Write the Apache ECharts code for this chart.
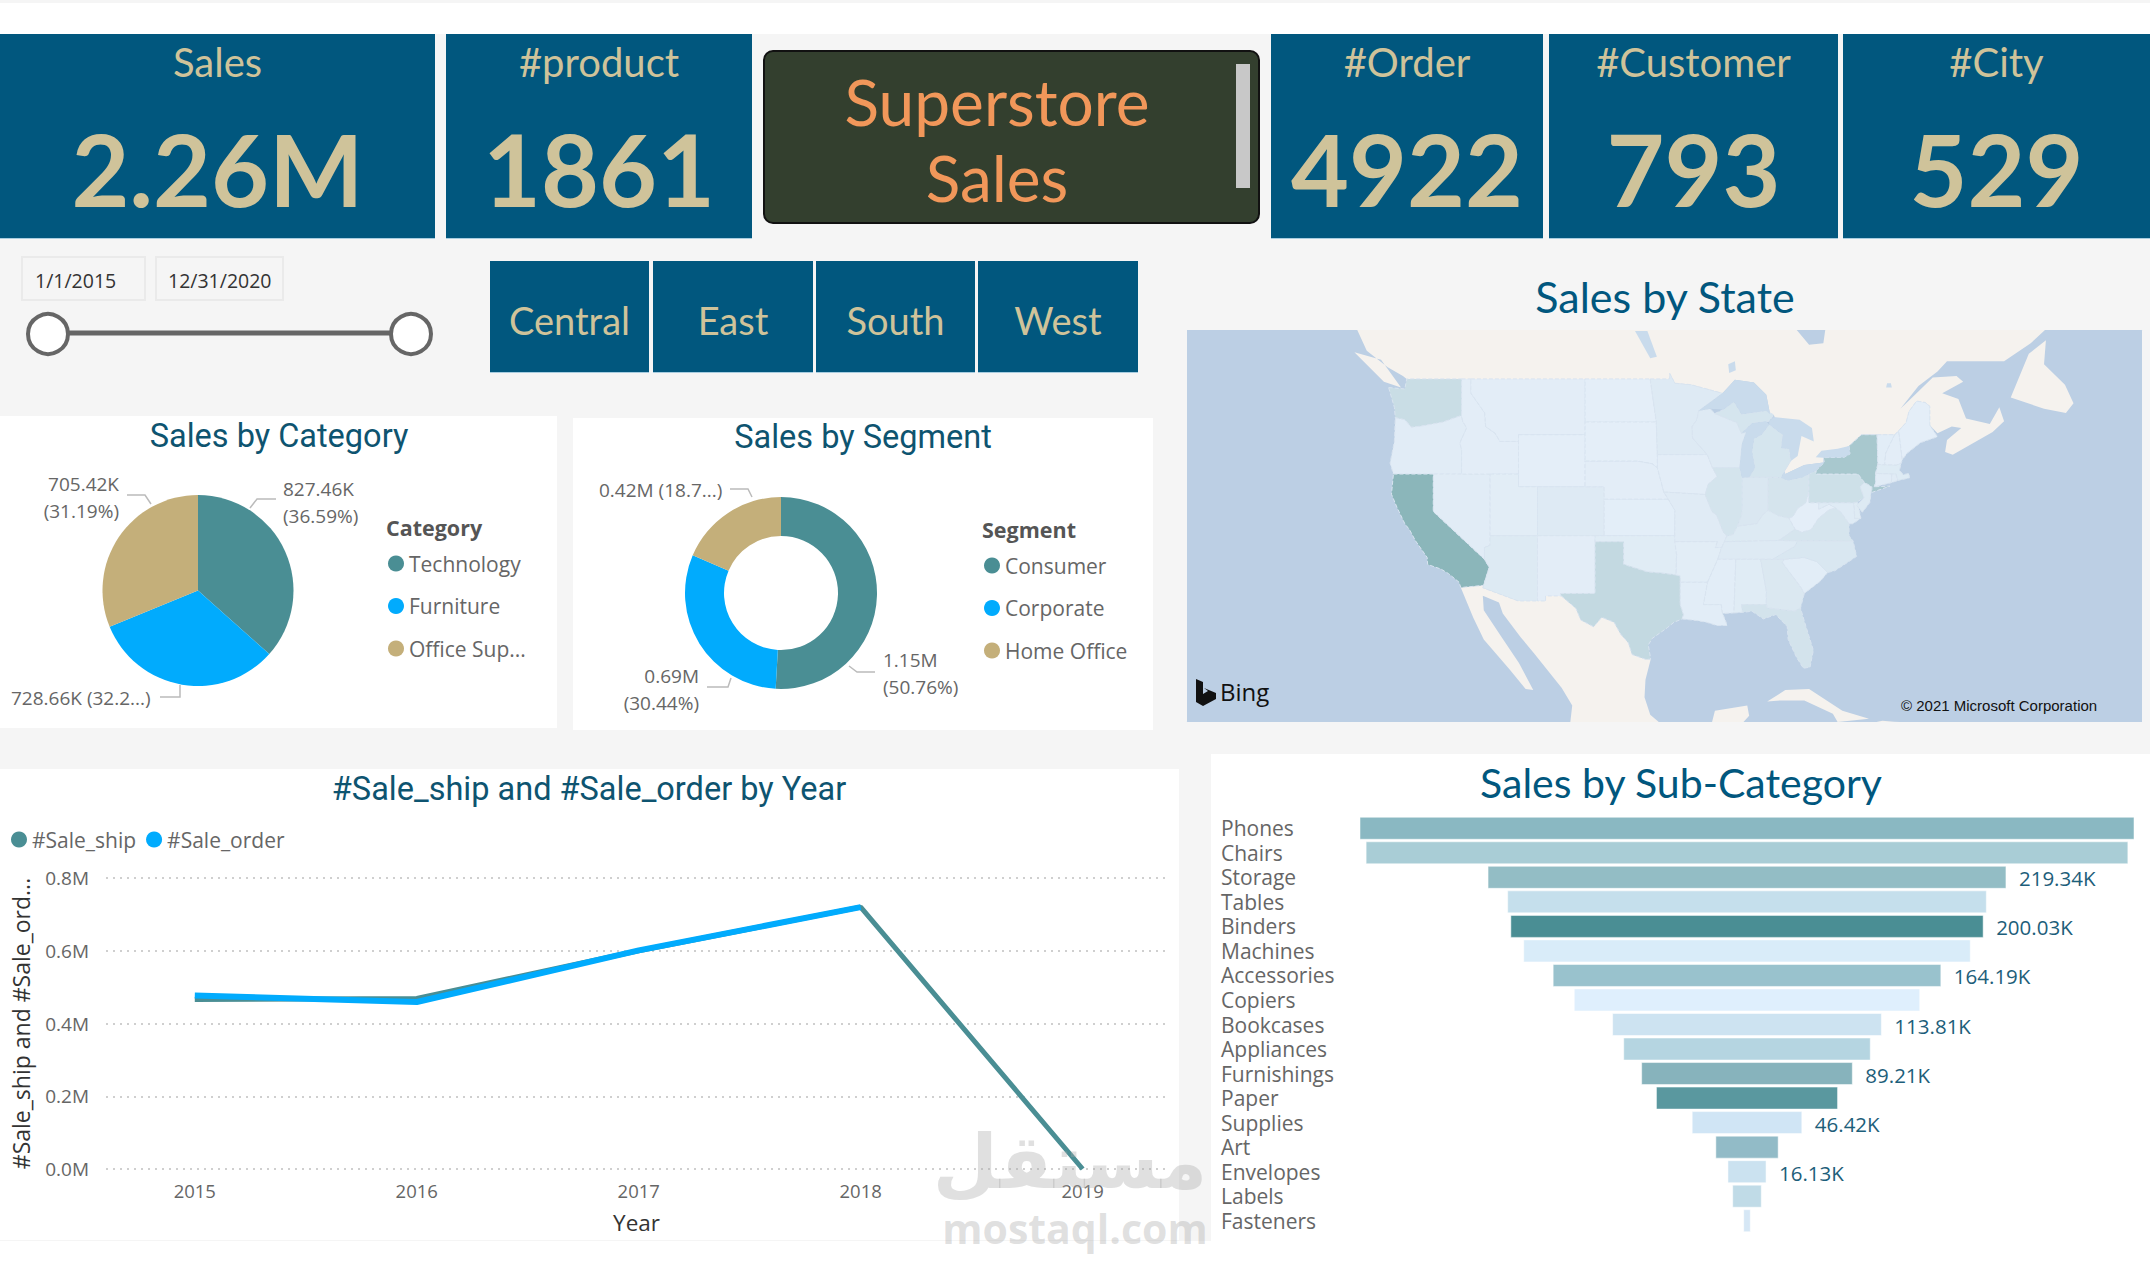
<!DOCTYPE html>
<html><head><meta charset="utf-8"><title>Superstore Sales</title>
<style>html,body{margin:0;padding:0;background:#fff}#c{width:2150px;height:1275px}</style>
<script src="https://cdn.jsdelivr.net/npm/echarts@6/dist/echarts.min.js"></script></head>
<body><div id="c"></div>
<script>
// ---------- data ----------
const kpiLabels = ['Sales', '#product', '#Order', '#Customer', '#City'];
const kpiValues = ['2.26M', '1861', '4922', '793', '529'];
const regionButtons = ['Central', 'East', 'South', 'West'];
const dateRange = ['1/1/2015', '12/31/2020'];
const categories = ['Technology', 'Furniture', 'Office Supplies'];
const categorySales = [827.46, 728.66, 705.42];
const categoryLabels = ['827.46K\n(36.59%)', '728.66K (32.2...)', '705.42K\n(31.19%)'];
const segments = ['Consumer', 'Corporate', 'Home Office'];
const segmentSales = [1.15, 0.69, 0.42];
const segmentLabels = ['1.15M\n(50.76%)', '0.69M\n(30.44%)', '0.42M (18.7...)'];
const years = [2015, 2016, 2017, 2018, 2019];
const saleShip = [0.466, 0.469, 0.60, 0.72, 0.0];
const saleOrder = [0.477, 0.459, 0.601, 0.72, null];
const subCategories = ['Phones','Chairs','Storage','Tables','Binders','Machines','Accessories','Copiers','Bookcases','Appliances','Furnishings','Paper','Supplies','Art','Envelopes','Labels','Fasteners'];
const subSales = [327.8,322.6,219.34,202.7,200.03,189.1,164.19,146.3,113.81,104.4,89.21,76.7,46.42,26.4,16.13,12.1,2.8];
const subLabels = ['','','219.34K','','200.03K','','164.19K','','113.81K','','89.21K','','46.42K','','16.13K','',''];
const subColors = ['#8AB8C2','#A9CDD6','#93BDC5','#C5DFEC','#4A8E94','#D9ECF9','#99C2CD','#DFEFFD','#CDE3F1','#B5D5E1','#87B3BC','#5A989F','#D0E5F5','#92BBC7','#CBE2F0','#C0DBE7','#D6E7F5'];
const stateSales = {California:457.7,'New York':310.9,Texas:170.2,Washington:138.6,Pennsylvania:116.5,Florida:89.5,Illinois:80.2,Ohio:78.3,Michigan:76.3,Virginia:70.6,'North Carolina':55.6,Indiana:53.6,Georgia:49.1,Kentucky:36.6,'New Jersey':35.8,Arizona:35.3,Wisconsin:32.1,Colorado:32.1,Tennessee:30.7,Minnesota:29.9,Massachusetts:28.6,Delaware:27.5,Maryland:23.7,'Rhode Island':22.6,Missouri:22.2,Oklahoma:19.7,Alabama:19.5,Oregon:17.4,Nevada:16.7,Connecticut:13.4,Arkansas:11.7,Utah:11.2,Mississippi:10.8,Louisiana:9.2,Vermont:9,'South Carolina':8.5,Nebraska:7.5,'New Hampshire':7.3,Montana:5.6,'New Mexico':4.8,Iowa:4.6,Idaho:4.4,Kansas:2.9,Wyoming:1.6,'South Dakota':1.3,Maine:1.3,'West Virginia':1.2,'North Dakota':0.9};

// ---------- map outlines (lon, lat) ----------
const stateOutlines = {
Washington:[[[-124.7,48.4],[-123,48.3],[-122.8,49],[-117.03,49],[-117.04,46.42],[-119,45.93],[-121.2,45.65],[-122.3,45.55],[-123,46.1],[-124,46.25],[-124.1,47]]],
Oregon:[[[-124,46.25],[-123,46.1],[-122.3,45.55],[-121.2,45.65],[-119,45.93],[-117.04,46.42],[-116.92,46],[-116.5,45.5],[-117.2,44.4],[-117.03,43.8],[-117.03,42],[-124.2,42],[-124.55,42.85],[-124.1,44.5]]],
California:[[[-124.2,42],[-120,42],[-120,39],[-114.63,35],[-114.13,34.3],[-114.72,32.72],[-117.12,32.53],[-117.3,33],[-118.4,33.75],[-119.2,34.15],[-120.6,34.55],[-120.65,35.15],[-121.9,36.6],[-122.5,37.5],[-123,38],[-123.8,39.3],[-124.4,40.4]]],
Nevada:[[[-120,42],[-114.04,42],[-114.04,36.2],[-114.63,36],[-114.63,35],[-120,39]]],
Idaho:[[[-117.03,49],[-116.05,49],[-116.05,48],[-114.6,46.6],[-114.5,45.6],[-113.5,45.1],[-113,44.5],[-111.05,44.5],[-111.05,42],[-117.03,42],[-117.03,43.8],[-117.2,44.4],[-116.5,45.5],[-116.92,46],[-117.04,46.42]]],
Montana:[[[-116.05,49],[-104.05,49],[-104.05,45],[-111.05,45],[-111.05,44.5],[-113,44.5],[-113.5,45.1],[-114.5,45.6],[-114.6,46.6],[-116.05,48]]],
Wyoming:[[[-111.05,45],[-104.05,45],[-104.05,41],[-111.05,41]]],
Utah:[[[-114.04,42],[-111.05,42],[-111.05,41],[-109.05,41],[-109.05,37],[-114.04,37]]],
Colorado:[[[-109.05,41],[-102.05,41],[-102.05,37],[-109.05,37]]],
Arizona:[[[-114.04,37],[-109.05,37],[-109.05,31.33],[-111.07,31.33],[-114.8,32.5],[-114.72,32.72],[-114.13,34.3],[-114.63,35],[-114.63,36],[-114.04,36.2]]],
'New Mexico':[[[-109.05,37],[-103,37],[-103,32],[-106.62,32],[-106.53,31.78],[-108.2,31.78],[-108.2,31.33],[-109.05,31.33]]],
'North Dakota':[[[-104.05,49],[-97.2,49],[-96.56,45.94],[-104.05,45.94]]],
'South Dakota':[[[-104.05,45.94],[-96.56,45.94],[-96.45,43.5],[-96.45,42.5],[-97,42.8],[-98.5,43],[-104.05,43]]],
Nebraska:[[[-104.05,43],[-98.5,43],[-97,42.8],[-96.45,42.5],[-95.77,40.58],[-95.3,40],[-102.05,40],[-102.05,41],[-104.05,41]]],
Kansas:[[[-102.05,40],[-95.3,40],[-94.6,39.1],[-94.62,37],[-102.05,37]]],
Oklahoma:[[[-103,37],[-94.62,37],[-94.43,35.4],[-94.48,33.64],[-96,33.8],[-97.5,33.9],[-100,34.56],[-100,36.5],[-103,36.5]]],
Texas:[[[-103,36.5],[-100,36.5],[-100,34.56],[-97.5,33.9],[-96,33.8],[-94.48,33.64],[-94.04,33.55],[-94.04,31],[-93.7,30.1],[-93.84,29.7],[-94.7,29.4],[-95.4,28.9],[-97,27.9],[-97.4,27.3],[-97.15,25.95],[-97.7,25.95],[-99.1,26.4],[-99.5,27.5],[-100.3,28.3],[-101,29.4],[-102.3,29.85],[-103.15,28.98],[-104.5,29.6],[-105,30.65],[-106.53,31.78],[-106.62,32],[-103,32]]],
Minnesota:[[[-97.2,49],[-95.15,49],[-95.15,49.38],[-94.6,48.7],[-92.9,48.6],[-89.6,48],[-92.1,46.75],[-92.3,46.1],[-92.8,45.6],[-92.75,44.75],[-91.2,43.5],[-96.45,43.5],[-96.56,45.94]]],
Iowa:[[[-96.45,43.5],[-91.2,43.5],[-90.65,42.5],[-90.15,41.8],[-91.1,41.2],[-91.42,40.38],[-95.77,40.58],[-96.45,42.5]]],
Missouri:[[[-95.77,40.58],[-91.42,40.38],[-90.7,39],[-90.2,38.7],[-89.5,37.3],[-89.15,36.98],[-89.4,36.5],[-89.7,36],[-90.37,36],[-90.15,36.5],[-94.62,36.5],[-94.62,37],[-94.6,39.1],[-95.3,40]]],
Arkansas:[[[-94.62,36.5],[-90.15,36.5],[-90.37,36],[-89.7,36],[-90.1,35],[-91.17,33],[-94.04,33],[-94.04,33.55],[-94.48,33.64],[-94.43,35.4]]],
Louisiana:[[[-94.04,33],[-91.17,33],[-91.6,31],[-89.73,31],[-89.6,30.2],[-89.4,29.8],[-89.1,29.1],[-90.2,29.1],[-91.3,29.4],[-92.3,29.55],[-93.84,29.7],[-93.7,30.1],[-94.04,31]]],
Wisconsin:[[[-92.1,46.75],[-90.9,46.9],[-90.4,46.55],[-88.1,45.9],[-87.6,45.1],[-87.1,45.2],[-87.55,44.3],[-87.8,42.5],[-90.65,42.5],[-91.2,43.5],[-92.75,44.75],[-92.8,45.6],[-92.3,46.1]]],
Illinois:[[[-90.65,42.5],[-87.8,42.5],[-87.53,41.7],[-87.53,39.35],[-87.6,38.7],[-88.05,37.8],[-88.5,37.1],[-89.15,36.98],[-89.5,37.3],[-90.2,38.7],[-90.7,39],[-91.42,40.38],[-91.1,41.2],[-90.15,41.8]]],
Indiana:[[[-87.53,41.7],[-87.2,41.75],[-84.8,41.75],[-84.82,39.1],[-85.4,38.7],[-86,38],[-87,37.9],[-88.05,37.8],[-87.6,38.7],[-87.53,39.35]]],
Michigan:[[[-86.8,41.76],[-84.8,41.75],[-83.45,41.72],[-83.1,42.2],[-82.45,43],[-82.6,43.9],[-83.4,44],[-83.3,45],[-84.7,45.75],[-85.5,45],[-86.3,44.7],[-86.5,43.7],[-86.2,42.5]],[[-90.4,46.55],[-89.5,46.85],[-88.4,47.4],[-87.6,46.5],[-85,46.75],[-84.2,46.45],[-84.7,46],[-86.5,45.85],[-87.6,45.1],[-88.1,45.9]]],
Ohio:[[[-84.8,41.75],[-83.45,41.72],[-82.7,41.5],[-81.2,41.75],[-80.52,42],[-80.52,40.64],[-80.85,39.7],[-81.7,39.25],[-82.2,38.6],[-82.6,38.45],[-83.7,38.65],[-84.82,39.1]]],
Kentucky:[[[-88.05,37.8],[-87,37.9],[-86,38],[-85.4,38.7],[-84.82,39.1],[-83.7,38.65],[-82.6,38.45],[-81.97,37.54],[-83.68,36.6],[-89.4,36.5],[-89.15,36.98],[-88.5,37.1]]],
Tennessee:[[[-90.1,35],[-89.7,36],[-89.4,36.5],[-83.68,36.6],[-81.68,36.59],[-82,36.1],[-84.3,35]]],
Mississippi:[[[-91.17,33],[-90.1,35],[-88.2,35],[-88.4,30.25],[-89.6,30.2],[-89.73,31],[-91.6,31]]],
Alabama:[[[-88.2,35],[-85.6,35],[-85,32.3],[-85,31],[-87.6,31],[-87.5,30.3],[-88.4,30.25]]],
Georgia:[[[-85.6,35],[-83.1,35],[-83.3,34.7],[-81.4,32.6],[-81,32],[-81.4,30.7],[-82,30.4],[-84.9,30.7],[-85,31],[-85,32.3]]],
Florida:[[[-87.6,31],[-85,31],[-84.9,30.7],[-82,30.4],[-81.4,30.7],[-81,29.5],[-80.05,26.8],[-80.4,25.2],[-81.1,25.1],[-81.8,26.1],[-82.7,27.8],[-82.8,29],[-84,30.1],[-85.3,29.7],[-86.5,30.4],[-87.5,30.3]]],
'South Carolina':[[[-83.1,35],[-81,35.15],[-79.7,34.8],[-78.55,33.85],[-79.3,33.1],[-81,32],[-81.4,32.6],[-83.3,34.7]]],
'North Carolina':[[[-84.3,35],[-82,36.1],[-81.68,36.59],[-75.87,36.55],[-75.5,35.25],[-76.5,34.7],[-77.8,34],[-78.55,33.85],[-79.7,34.8],[-81,35.15],[-83.1,35]]],
Virginia:[[[-83.68,36.6],[-81.97,37.54],[-81.3,37.3],[-80.3,37.5],[-79.5,38.45],[-78.4,39.15],[-77.7,39.3],[-77.1,38.9],[-76.3,38],[-76.3,37],[-75.87,36.55],[-81.68,36.59]]],
'West Virginia':[[[-82.6,38.45],[-82.2,38.6],[-81.7,39.25],[-80.85,39.7],[-80.52,40.64],[-80.52,39.72],[-79.48,39.72],[-79.48,39.2],[-78.4,39.6],[-77.7,39.3],[-78.4,39.15],[-79.5,38.45],[-80.3,37.5],[-81.3,37.3],[-81.97,37.54]]],
Maryland:[[[-79.48,39.72],[-75.79,39.72],[-75.7,38.45],[-75.05,38.45],[-75.9,38],[-76.3,38],[-77.1,38.9],[-77.7,39.3],[-78.4,39.6],[-79.48,39.2]]],
Delaware:[[[-75.79,39.72],[-75.4,39.8],[-75.05,38.45],[-75.7,38.45]]],
Pennsylvania:[[[-80.52,42],[-79.76,42.27],[-79.76,42],[-75.35,42],[-74.7,41.36],[-75.13,40.98],[-74.72,40.15],[-75.4,39.8],[-75.79,39.72],[-80.52,39.72]]],
'New Jersey':[[[-75.13,40.98],[-74.7,41.36],[-73.9,41],[-74,40.45],[-74.1,39.75],[-74.9,38.95],[-75.5,39.5],[-74.72,40.15]]],
'New York':[[[-79.76,42.27],[-78.9,42.9],[-79,43.27],[-76.8,43.3],[-76.2,43.55],[-76.3,44.15],[-75,45],[-73.35,45],[-73.3,43.6],[-73.27,42.75],[-73.5,42.05],[-73.5,41.3],[-73.65,41],[-72,41.05],[-73.9,40.55],[-73.9,41],[-74.7,41.36],[-75.35,42],[-79.76,42]]],
Connecticut:[[[-73.5,42.05],[-71.8,42.02],[-71.85,41.32],[-73.65,41],[-73.5,41.3]]],
'Rhode Island':[[[-71.8,42.02],[-71.38,42.02],[-71.15,41.5],[-71.85,41.32]]],
Massachusetts:[[[-73.5,42.05],[-73.27,42.75],[-71.3,42.7],[-70.8,42.87],[-71,42.3],[-70.6,41.95],[-70,42.05],[-69.95,41.7],[-71.15,41.5],[-71.38,42.02],[-71.8,42.02]]],
Vermont:[[[-73.35,45],[-71.5,45],[-72.45,43.6],[-72.55,42.73],[-73.27,42.75],[-73.3,43.6]]],
'New Hampshire':[[[-71.5,45],[-71.08,45.3],[-70.7,43.1],[-70.8,42.87],[-71.3,42.7],[-72.55,42.73],[-72.45,43.6]]],
Maine:[[[-71.08,45.3],[-70.3,45.9],[-70,46.7],[-69.2,47.45],[-68.3,47.35],[-67.8,47.07],[-67.8,45.7],[-67,44.85],[-68.8,44.4],[-70.2,43.6],[-70.7,43.1]]]
};
const landOutlines = {
Canada:[[[-128,52.26],[-127,50.9],[-124.8,49.8],[-123.2,49.2],[-122.8,49],[-95.15,49],[-95.15,49.38],[-94.6,48.7],[-92.9,48.6],[-89.6,48],[-88.3,48.95],[-86.3,48.75],[-85,47.9],[-84.6,46.5],[-84.2,46.45],[-82.45,43],[-83.1,42.2],[-83,42],[-81,42.7],[-79,42.9],[-79,43.27],[-76.3,44.15],[-75,45],[-71.5,45],[-71.08,45.3],[-70.3,45.9],[-70,46.7],[-69.2,47.45],[-68.3,47.35],[-67.8,47.07],[-67.8,45.7],[-67,45.1],[-65.5,45.6],[-64.5,45.5],[-66,44.6],[-66.2,43.7],[-65.4,43.5],[-61.2,45.2],[-60,46],[-60.5,47],[-61.5,45.8],[-64,46.2],[-64.8,47.6],[-66.5,48],[-64.3,48.8],[-65,49.2],[-67.5,49.1],[-69.5,47.8],[-70.9,46.9],[-69,48.5],[-67,49.5],[-66,50.2],[-60,50.2],[-57.2,51.4],[-55.7,52.26],[-78.8,52.26],[-79,51.4],[-80.5,51.3],[-81.8,52.26]],[[-128.3,50.8],[-125.5,50.3],[-123.4,48.4],[-125.2,48.8]],[[-59.3,47.7],[-57.4,50.7],[-55.6,51.6],[-55.8,50],[-53.6,48.6],[-52.7,47.3],[-53.5,46.6],[-55.8,46.9]]],
Mexico:[[[-117.12,32.53],[-114.72,32.72],[-114.8,32.5],[-111.07,31.33],[-108.2,31.33],[-108.2,31.78],[-106.53,31.78],[-105,30.65],[-104.5,29.6],[-103.15,28.98],[-102.3,29.85],[-101,29.4],[-100.3,28.3],[-99.5,27.5],[-99.1,26.4],[-97.7,25.95],[-97.15,25.95],[-97.7,24],[-97.8,22.3],[-97.2,20.6],[-96.3,19.88],[-105.6,19.88],[-105.4,21.5],[-106.5,23.2],[-109.4,26.5],[-110.8,28],[-112.7,30.2],[-113.1,31.2],[-114.8,31.8],[-114.7,30.5],[-112.8,28],[-111,25.6],[-109.5,23],[-110.3,23.1],[-112,25],[-114.7,27.8],[-115.8,29.8]],[[-90.7,19.88],[-90.4,21],[-87,21.5],[-86.8,20.5],[-87.4,19.88]]],
Cuba:[[[-84.9,21.9],[-83,23],[-80.5,23.1],[-77,21],[-74.2,20.2],[-77.5,19.88],[-78,20.7],[-81,22],[-83.5,22]]],
Hispaniola:[[[-73.4,19.88],[-72.8,20],[-71.6,19.9],[-71,19.88]]]
};
const lakeOutlines = {
Superior:[[[-92.1,46.75],[-90.9,46.9],[-89.5,46.85],[-88.4,47.4],[-87.6,46.5],[-85,46.75],[-84.6,46.5],[-85,47.9],[-86.3,48.75],[-88.3,48.95],[-89.6,48]]],
LakeMichigan:[[[-87.6,45.1],[-86.5,45.85],[-85,46],[-84.7,45.75],[-85.5,45],[-86.3,44.7],[-86.5,43.7],[-86.2,42.5],[-86.8,41.76],[-87.2,41.75],[-87.53,41.7],[-87.8,42.5],[-87.55,44.3],[-87.1,45.2]]],
Huron:[[[-84.7,46],[-84.7,45.75],[-83.3,45],[-83.4,44],[-82.6,43.9],[-82.45,43],[-81.7,43.4],[-81.3,44.9],[-80,44.5],[-80.2,45.5],[-81.5,46.1],[-84.2,46.3]]],
Erie:[[[-83.45,41.72],[-83.1,42.2],[-83,42],[-81,42.7],[-79,42.9],[-78.9,42.9],[-79.76,42.27],[-80.52,42],[-81.2,41.75],[-82.7,41.5]]],
Ontario:[[[-79.8,43.3],[-79,43.27],[-76.8,43.3],[-76.2,43.55],[-76.3,44.15],[-77.5,43.95],[-79.2,43.8]]],
Winnipeg:[[[-97.2,50.4],[-96.5,50.5],[-97.5,52.2],[-98.8,52.2]]],
Nipigon:[[[-88.9,49.4],[-88.2,49.6],[-88.3,50.2],[-89,50]]],
SaintJean:[[[-72.4,48.4],[-71.8,48.4],[-71.9,48.7],[-72.3,48.7]]]
};
const mapWindow = {w:-145.9, e:-45.5, s:19.88, n:52.26};

// ---------- styles ----------
const HAND = 'Lato, "Noto Sans", sans-serif';
const UI = '"Open Sans", "Noto Sans", sans-serif';
const DIN = 'Roboto, "Noto Sans", sans-serif';
const BLUE = '#01577E', TAN = '#CFC39A', GREY = '#666666';
const TEAL = '#4A8E94', SKY = '#01ABFD', KHAKI = '#C4AF7A';

// ---------- map helpers ----------
const toFeature = (name, rings) => ({type:'Feature', properties:{name}, geometry:{type:'MultiPolygon', coordinates:rings.map(r => [r.concat([r[0]])])}});
const corners = [[[mapWindow.w,mapWindow.s],[mapWindow.w+.01,mapWindow.s],[mapWindow.w,mapWindow.s+.01]],[[mapWindow.e,mapWindow.n],[mapWindow.e-.01,mapWindow.n],[mapWindow.e,mapWindow.n-.01]]];
const fc = (outlines, extra) => ({type:'FeatureCollection', features:extra.concat(Object.keys(outlines).map(k => toFeature(k, outlines[k])))});
echarts.registerMap('base', fc(landOutlines, [toFeature('Ocean', [[[mapWindow.w,mapWindow.s],[mapWindow.e,mapWindow.s],[mapWindow.e,mapWindow.n],[mapWindow.w,mapWindow.n]]])]));
echarts.registerMap('states', fc(stateOutlines, [toFeature('frame', corners)]));
echarts.registerMap('lakes', fc(lakeOutlines, [toFeature('frame', corners)]));
const mercator = {
  project: p => [p[0]*Math.PI/180, -Math.log(Math.tan(Math.PI/4 + p[1]*Math.PI/360))],
  unproject: p => [p[0]*180/Math.PI, (2*Math.atan(Math.exp(-p[1]))-Math.PI/2)*180/Math.PI]
};
const mapBox = {left:1187, top:330, width:955, height:392, projection:mercator, silent:true, roam:false};

// ---------- graphic elements ----------
const rect = (x,y,w,h,fill,extra) => Object.assign({type:'rect', z:-1, shape:{x,y,width:w,height:h}, style:{fill}, silent:true}, extra||{});
const text = (x,y,t,font,fill,align) => ({type:'text', z:1, silent:true, style:{x,y,text:t,font,fill,textAlign:align||'center',textVerticalAlign:'middle'}});
const kpiBoxes = [[0,435],[446,306],[1271,272],[1549,289],[1843,307]];
const btnBoxes = [[490,159],[653,160],[816,159],[978,160]];
const elements = [
  rect(0,0,2150,3,'#F5F5F5'),
  rect(0,34,2150,1207,'#F5F5F5'),
  rect(0,416,557,312,'#FFFFFF'),
  rect(573,418,580,312,'#FFFFFF'),
  rect(0,769,1179,471,'#FFFFFF'),
  rect(1211,754,939,489,'#FFFFFF'),
  {type:'rect', z:-1, silent:true, shape:{x:764,y:51,width:495,height:172,r:9}, style:{fill:'#333F2E',stroke:'#111',lineWidth:2}},
  rect(1236,64,14,124,'#C8C8C8',{z:1}),
  text(997,101,'Superstore','400 64px '+HAND,'#F1975A'),
  text(997,177,'Sales','400 64px '+HAND,'#F1975A'),
  rect(22,257,123,43,'#F5F5F5',{style:{fill:'#F5F5F5',stroke:'#EAEAEA',lineWidth:2}}),
  rect(156,257,127,43,'#F5F5F5',{style:{fill:'#F5F5F5',stroke:'#EAEAEA',lineWidth:2}}),
  text(35,280,dateRange[0],'400 19.5px '+UI,'#333','left'),
  text(168,280,dateRange[1],'400 19.5px '+UI,'#333','left'),
  {type:'line', z:0, silent:true, shape:{x1:48,y1:333,x2:411,y2:333}, style:{stroke:'#666',lineWidth:5}},
  {type:'circle', z:1, silent:true, shape:{cx:48,cy:334,r:20}, style:{fill:'#fff',stroke:'#666',lineWidth:4}},
  {type:'circle', z:1, silent:true, shape:{cx:411,cy:334,r:20}, style:{fill:'#fff',stroke:'#666',lineWidth:4}},
  text(1665,296,'Sales by State','400 43px '+HAND,BLUE),
  text(386,527,'Category','700 21.5px '+UI,'#555','left'),
  text(982,529,'Segment','700 21.5px '+UI,'#555','left'),
  {type:'polygon', z:1, silent:true, shape:{points:[[1196,679],[1203,682],[1203,694],[1208,691],[1204,688],[1216,693],[1216,699],[1203,706],[1196,702]]}, style:{fill:'#111'}},
  text(1220,691,'Bing','400 24px '+UI,'#111','left'),
  text(1901,705,'© 2021 Microsoft Corporation','400 15px "Liberation Sans", sans-serif','#111','left')
];
const watermark = [
  text(1070,1162,'مستقل','700 75px "DejaVu Sans", sans-serif','rgba(165,165,165,0.35)'),
  text(1075,1228,'mostaql.com','700 41px "Open Sans", sans-serif','rgba(165,165,165,0.35)')
];
watermark.forEach(w => { w.z = 100; elements.push(w); });
kpiLabels.forEach((t,i) => {
  const b = kpiBoxes[i], cx = b[0]+b[1]/2;
  elements.push(rect(b[0],34,b[1],205,BLUE), rect(b[0],238,b[1],1,'#A8CDE0'));
  elements.push(text(cx,62,t,'400 40px '+HAND,TAN), text(cx,168,kpiValues[i],'700 100px '+HAND,TAN));
});
regionButtons.forEach((t,i) => {
  const b = btnBoxes[i];
  elements.push(rect(b[0],261,b[1],112,BLUE), rect(b[0],372,b[1],1,'#A8CDE0'));
  elements.push(text(b[0]+b[1]/2,320,t,'400 38px '+HAND,TAN));
});

// ---------- label layouts ----------
const catLayout = [
  {x:283,y:502,align:'left',verticalAlign:'middle',labelLinePoints:[[250,508],[257,499],[276,499]]},
  {x:11,y:698,align:'left',verticalAlign:'middle',labelLinePoints:[[180,685],[180,697],[160,697]]},
  {x:119,y:497,align:'right',verticalAlign:'middle',labelLinePoints:[[151,504],[145,495],[127,495]]}
];
const segLayout = [
  {x:883,y:673,align:'left',verticalAlign:'middle',labelLinePoints:[[849,666],[857,672],[875,672]]},
  {x:699,y:689,align:'right',verticalAlign:'middle',labelLinePoints:[[731,678],[728,687],[707,687]]},
  {x:599,y:490,align:'left',verticalAlign:'middle',labelLinePoints:[[752,497],[748,489],[730,489]]}
];
const pieLabel = arr => ({show:true, position:'outside', overflow:'none', formatter:p => arr[p.dataIndex], color:GREY, fontFamily:UI, fontSize:19, lineHeight:27});
const title = (t,x,y,size,font,color) => ({text:t, left:x, top:y, padding:0, textAlign:'center', textVerticalAlign:'middle', textStyle:{fontFamily:font, fontSize:size, fontWeight:400, color}});
const legendBase = {orient:'vertical', icon:'circle', padding:0, itemWidth:16, itemHeight:16, selectedMode:false};
const legendText = w => ({fontFamily:UI, fontSize:21, color:GREY, width:w, overflow:'truncate', ellipsis:'...'});

const option = {
  animation:false,
  backgroundColor:'#FFFFFF',
  textStyle:{fontFamily:UI},
  graphic:{elements},
  title:[
    title('Sales by Category',279,435.5,32.5,DIN,'#0E5470'),
    title('Sales by Segment',863,436.5,32.5,DIN,'#0E5470'),
    title('#Sale_ship and #Sale_order by Year',589,789,32.5,DIN,'#0E5470'),
    title('Sales by Sub-Category',1681,782,41,HAND,BLUE)
  ],
  legend:[
    Object.assign({}, legendBase, {left:388, top:553, itemGap:21.5, data:categories, textStyle:legendText(125)}),
    Object.assign({}, legendBase, {left:984, top:555, itemGap:21.5, data:segments, textStyle:legendText(150)}),
    {left:11, top:829, padding:0, icon:'circle', itemWidth:16, itemHeight:16, itemGap:10, selectedMode:false, textStyle:{fontFamily:UI, fontSize:21, color:GREY}, data:['#Sale_ship','#Sale_order']}
  ],
  geo:[
    Object.assign({}, mapBox, {map:'base', z:0, itemStyle:{areaColor:'#F5F2EE', borderWidth:0}, emphasis:{disabled:true}, regions:[{name:'Ocean', itemStyle:{areaColor:'#BCCFE4', borderWidth:0}}]}),
    Object.assign({}, mapBox, {map:'lakes', z:5, itemStyle:{areaColor:'#C9DBEC', borderWidth:0}, emphasis:{disabled:true}, regions:[{name:'frame', itemStyle:{areaColor:'transparent'}}]})
  ],
  visualMap:{show:false, seriesIndex:0, min:0, max:460, inRange:{color:['#E4EEF8','#8BB6BA']}},
  grid:[
    {left:106, top:878, width:1061, height:291},
    {left:1360, top:816, width:774, height:417}
  ],
  xAxis:[
    {gridIndex:0, type:'value', min:2014.6, max:2019.38, interval:0.2, splitLine:{show:false}, axisLine:{show:false}, axisTick:{show:false},
     axisLabel:{margin:12, color:GREY, fontFamily:UI, fontSize:18.5, showMinLabel:false, showMaxLabel:false, formatter:v => Math.abs(v-Math.round(v))<1e-6 ? String(Math.round(v)) : ''},
     name:'Year', nameLocation:'middle', nameGap:42, nameTextStyle:{fontFamily:UI, fontSize:22.5, color:'#333'}},
    {gridIndex:1, type:'value', min:-subSales[0]/2, max:subSales[0]/2, show:false}
  ],
  yAxis:[
    {gridIndex:0, type:'value', min:0, max:0.8, interval:0.2, axisLine:{show:false}, axisTick:{show:false},
     splitLine:{lineStyle:{type:[2,5], color:'#CFCFCF', width:2}},
     axisLabel:{margin:17, color:GREY, fontFamily:UI, fontSize:19, formatter:v => v.toFixed(1)+'M'},
     name:'#Sale_ship and #Sale_ord...', nameLocation:'middle', nameRotate:90, nameGap:74, nameTextStyle:{fontFamily:UI, fontSize:23, color:'#333'}},
    {gridIndex:1, type:'category', inverse:true, data:subCategories, axisLine:{show:false}, axisTick:{show:false}, splitLine:{show:false},
     axisLabel:{align:'left', margin:139, interval:0, color:GREY, fontFamily:UI, fontSize:21}}
  ],
  series:[
    Object.assign({}, mapBox, {type:'map', map:'states', z:2, selectedMode:false, showLegendSymbol:false, emphasis:{disabled:true},
      itemStyle:{areaColor:'transparent', borderColor:'#D9E4F0', borderWidth:1, borderType:'dashed'},
      label:{show:false},
      data:Object.keys(stateSales).map(name => ({name, value:stateSales[name]}))}),
    {type:'pie', center:[198,590.5], radius:95.5, startAngle:90, silent:true, color:[TEAL,SKY,KHAKI],
      data:categories.map((name,i) => ({name, value:categorySales[i]})),
      label:pieLabel(categoryLabels), labelLine:{show:true, lineStyle:{color:'#BBBBBB', width:1.5}},
      labelLayout:p => catLayout[p.dataIndex]},
    {type:'pie', center:[781,593], radius:[57,96], startAngle:90, silent:true, color:[TEAL,SKY,KHAKI],
      data:segments.map((name,i) => ({name, value:segmentSales[i]})),
      label:pieLabel(segmentLabels), labelLine:{show:true, lineStyle:{color:'#BBBBBB', width:1.5}},
      labelLayout:p => segLayout[p.dataIndex]},
    {type:'line', name:'#Sale_ship', xAxisIndex:0, yAxisIndex:0, showSymbol:false, color:TEAL, lineStyle:{width:5}, z:3,
      data:years.map((y,i) => [y, saleShip[i]])},
    {type:'line', name:'#Sale_order', xAxisIndex:0, yAxisIndex:0, showSymbol:false, color:SKY, lineStyle:{width:6}, z:4,
      data:years.map((y,i) => [y, saleOrder[i]])},
    {type:'custom', xAxisIndex:1, yAxisIndex:1, silent:true, clip:false,
      encode:{x:1, y:0},
      data:subSales.map((v,i) => [i, v]),
      renderItem:(params, api) => {
        const i = params.dataIndex, v = api.value(1);
        const a = api.coord([-v/2, i]), b = api.coord([v/2, i]);
        const children = [{type:'rect', shape:{x:a[0], y:a[1]-11, width:b[0]-a[0], height:22}, style:{fill:subColors[i], stroke:'rgba(255,255,255,0.5)', lineWidth:1}}];
        if (subLabels[i]) children.push({type:'text', style:{x:b[0]+13, y:b[1]+1, text:subLabels[i], fill:'#1D5E7A', font:'400 20.5px '+UI, textAlign:'left', textVerticalAlign:'middle'}});
        return {type:'group', children};
      }}
  ]
};
const chart = echarts.init(document.getElementById('c'), null, {renderer:'svg', width:2150, height:1275});
chart.setOption(option);
</script></body></html>
